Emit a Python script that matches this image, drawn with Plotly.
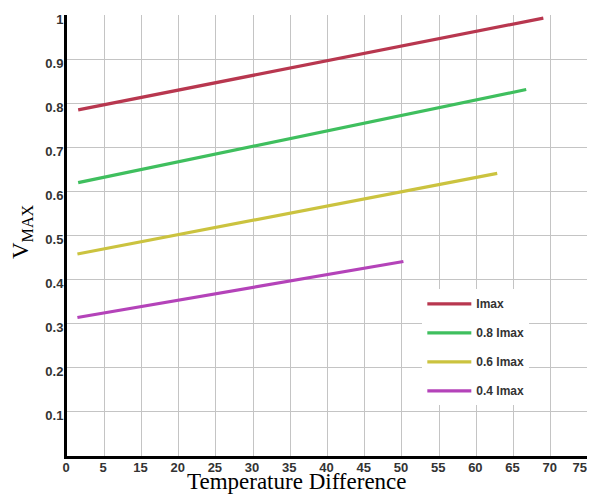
import plotly.graph_objects as go

# x positions are in axis units (grid spacing of 5); tick text as printed on the chart
x_tick_vals = [0, 5, 10, 15, 20, 25, 30, 35, 40, 45, 50, 55, 60, 65, 70]
x_tick_text = ["0", "5", "15", "20", "25", "30", "35", "40", "45", "50", "55", "60", "65", "70",
               "75\u00a0\u00a0\u00a0\u00a0"]
y_tick_vals = [0.1, 0.2, 0.3, 0.4, 0.5, 0.6, 0.7, 0.8, 0.9, 1.0]
y_tick_text = ["0.1", "0.2", "0.3", "0.4", "0.5", "0.6", "0.7", "0.8", "0.9", "1"]

series_names = ["Imax", "0.8 Imax", "0.6 Imax", "0.4 Imax"]
imax_x = [1.5, 64.0]
imax_y = [0.785, 0.993]
i08_x = [1.5, 61.7]
i08_y = [0.620, 0.831]
i06_x = [1.4, 57.8]
i06_y = [0.458, 0.641]
i04_x = [1.4, 45.2]
i04_y = [0.314, 0.441]
colors = ["#b8374f", "#3fbf5e", "#cbc33f", "#b443b9"]

fig = go.Figure()
for name, xs, ys, c in zip(series_names,
                           [imax_x, i08_x, i06_x, i04_x],
                           [imax_y, i08_y, i06_y, i04_y], colors):
    fig.add_trace(go.Scatter(x=xs, y=ys, mode="lines", name=name, legendgroup=name,
                             line=dict(color=c, width=3.2)))

tickfont = dict(family="Liberation Sans, Arial", size=13, color="#333333", weight="bold")

# page body has an 8px margin, so the figure starts at (8, 8)
fig.update_layout(
    width=587, height=488,
    margin=dict(l=59, r=7, t=7, b=40, autoexpand=False),
    paper_bgcolor="white", plot_bgcolor="white",
    showlegend=True,
    legend=dict(x=0.682, y=0.378, xanchor="left", yanchor="top",
                bgcolor="white", borderwidth=0,
                font=dict(family="Liberation Sans Narrow, Liberation Sans, Arial", size=12,
                          color="#333333", weight="bold"),
                traceorder="grouped", tracegroupgap=10, itemwidth=44),
    xaxis=dict(range=[0, 70], tickvals=x_tick_vals, ticktext=x_tick_text,
               showgrid=True, gridcolor="#c4c4c4", gridwidth=1,
               showline=True, linecolor="black", linewidth=3,
               zeroline=False, ticks="", tickfont=tickfont, automargin=False,
               ticklabelstandoff=-3, ticklabeloverflow="allow", ticklabelshift=-1),
    yaxis=dict(range=[0, 1], tickvals=y_tick_vals, ticktext=y_tick_text,
               showgrid=True, gridcolor="#c4c4c4", gridwidth=1,
               showline=True, linecolor="black", linewidth=3,
               zeroline=False, ticks="", tickfont=tickfont, ticklabelstandoff=-2,
               ticklabelshift=4, automargin=False),
    shapes=[dict(type="line", xref="paper", yref="paper", x0=1, x1=1, y0=0, y1=1,
                 line=dict(color="black", width=2))],
    annotations=[
        dict(text="Temperature Difference", xref="paper", yref="paper",
             x=(297 - 67) / 521, y=-(482 - 456) / 441, xanchor="center", yanchor="middle",
             showarrow=False,
             font=dict(family="Liberation Serif, Times New Roman", size=23, color="black")),
        dict(text="V<sub>MAX</sub>", xref="paper", yref="paper",
             x=-(67 - 22) / 521, y=(456 - 232) / 441, xanchor="center", yanchor="middle",
             textangle=-90, showarrow=False,
             font=dict(family="Liberation Serif, Times New Roman", size=23, color="black")),
    ],
)

fig.write_html("out.html")
